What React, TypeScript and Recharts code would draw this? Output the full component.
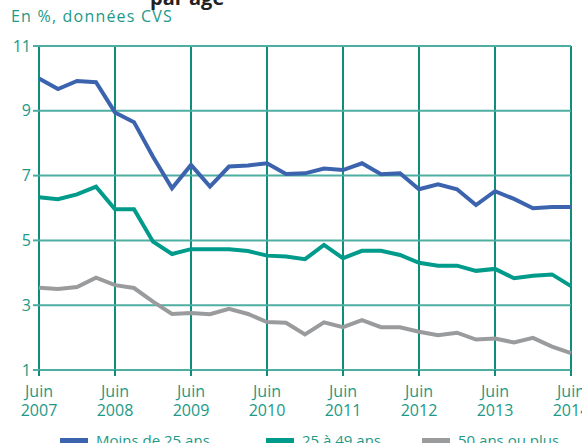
import React from 'react';
import { LineChart, Line, XAxis, YAxis, CartesianGrid, Legend } from 'recharts';

const quarters = [
  'Juin 2007', 'Sept 2007', 'Déc 2007', 'Mars 2008',
  'Juin 2008', 'Sept 2008', 'Déc 2008', 'Mars 2009',
  'Juin 2009', 'Sept 2009', 'Déc 2009', 'Mars 2010',
  'Juin 2010', 'Sept 2010', 'Déc 2010', 'Mars 2011',
  'Juin 2011', 'Sept 2011', 'Déc 2011', 'Mars 2012',
  'Juin 2012', 'Sept 2012', 'Déc 2012', 'Mars 2013',
  'Juin 2013', 'Sept 2013', 'Déc 2013', 'Mars 2014',
  'Juin 2014',
];

const moins25 = [
  10.0, 9.67, 9.92, 9.88, 8.95, 8.65, 7.58, 6.61, 7.33, 6.66, 7.28, 7.31, 7.38, 7.05,
  7.07, 7.22, 7.17, 7.38, 7.04, 7.07, 6.58, 6.73, 6.58, 6.09, 6.52, 6.28, 5.99, 6.03, 6.03,
];

const de25a49 = [
  6.33, 6.27, 6.42, 6.66, 5.96, 5.96, 4.96, 4.58, 4.73, 4.73, 4.73, 4.67, 4.53, 4.5,
  4.42, 4.86, 4.45, 4.68, 4.68, 4.55, 4.31, 4.22, 4.22, 4.06, 4.12, 3.83, 3.91, 3.95, 3.59,
];

const plus50 = [
  3.54, 3.5, 3.56, 3.85, 3.62, 3.53, 3.11, 2.73, 2.76, 2.72, 2.89, 2.73, 2.48, 2.46,
  2.1, 2.47, 2.32, 2.54, 2.32, 2.32, 2.18, 2.07, 2.15, 1.94, 1.97, 1.85, 1.99, 1.72, 1.52,
];

const yTicks = [1, 3, 5, 7, 9, 11];
const xTicks = quarters.filter((q) => q.startsWith('Juin'));

const series = [
  { key: 'moins25', name: 'Moins de 25 ans', color: '#3c63ae' },
  { key: 'de25a49', name: '25 à 49 ans', color: '#009b8a' },
  { key: 'plus50', name: '50 ans ou plus', color: '#9a9b9d' },
];

const data = quarters.map((q, i) => ({
  q,
  moins25: moins25[i],
  de25a49: de25a49[i],
  plus50: plus50[i],
}));

const TEAL = '#1c9987';
const FONT = '"Open Sans", "Noto Sans", sans-serif';

const XTick = (props: any) => {
  const { x, y, payload } = props;
  const [m, yr] = String(payload.value).split(' ');
  return (
    <text x={x} y={y} textAnchor="middle" fill={TEAL} fontSize={16} fontFamily={FONT}>
      <tspan x={x} dy={21}>{m}</tspan>
      <tspan x={x} dy={19}>{yr}</tspan>
    </text>
  );
};

const LegendContent = () => (
  <div style={{ position: 'relative', height: 30, fontFamily: FONT }}>
    {series.map((s, i) => {
      const left = [60, 266, 422][i];
      return (
        <div key={s.key} style={{ position: 'absolute', left, top: 0, display: 'flex', alignItems: 'center' }}>
          <div style={{ width: 28, height: 5, background: s.color, marginRight: 8 }} />
          <span style={{ color: TEAL, fontSize: 15 }}>{s.name}</span>
        </div>
      );
    })}
  </div>
);

export default function App() {
  return (
    <div style={{ position: 'absolute', left: 0, top: 0, width: 582, height: 443, overflow: 'hidden', background: '#fff' }}>
      <div style={{ position: 'absolute', left: 150, top: -16, fontFamily: FONT, fontWeight: 700, fontSize: 20, color: '#222' }}>
        par âge
      </div>
      <div style={{ position: 'absolute', left: 11, top: 5, fontFamily: FONT, fontSize: 16, letterSpacing: 1.2, color: TEAL }}>
        En %, données CVS
      </div>
      <LineChart
        width={582}
        height={460}
        data={data}
        margin={{ top: 46, right: 11, left: 0, bottom: 0 }}
      >
        <CartesianGrid horizontal={false} stroke="#0f8c7b" strokeWidth={2} />
        <CartesianGrid vertical={false} stroke="#4eaea2" strokeWidth={2} />
        <XAxis
          dataKey="q"
          ticks={xTicks}
          interval={0}
          height={60}
          axisLine={false}
          tickSize={6}
          tickMargin={0}
          tickLine={{ stroke: '#0f8c7b', strokeWidth: 2 }}
          tick={<XTick />}
        />
        <YAxis
          domain={[1, 11]}
          ticks={yTicks}
          width={39}
          axisLine={false}
          tickSize={6}
          tickLine={{ stroke: '#4eaea2', strokeWidth: 2 }}
          tick={{ fill: TEAL, fontSize: 16, fontFamily: FONT }}
        />
        <Legend verticalAlign="bottom" content={<LegendContent />} />
        {series.map((s) => (
          <Line
            key={s.key}
            type="linear"
            dataKey={s.key}
            name={s.name}
            stroke={s.color}
            strokeWidth={4}
            dot={false}
            isAnimationActive={false}
          />
        ))}
      </LineChart>
    </div>
  );
}
